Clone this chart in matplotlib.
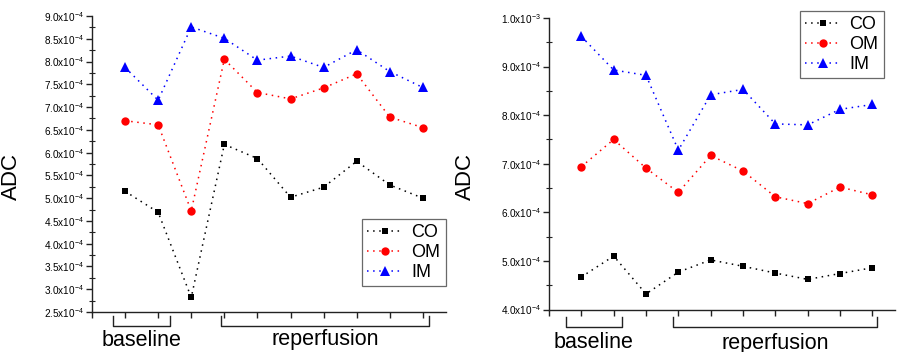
import matplotlib
matplotlib.use("Agg")
import matplotlib.pyplot as plt
import matplotlib.transforms as mtransforms
from matplotlib.ticker import FixedLocator, FixedFormatter, MultipleLocator

plt.rcParams['font.family'] = ['Liberation Sans', 'DejaVu Sans']
plt.rcParams['mathtext.fontset'] = 'custom'
plt.rcParams['mathtext.rm'] = 'Liberation Sans'
plt.rcParams['mathtext.it'] = 'Liberation Sans:italic'
plt.rcParams['mathtext.bf'] = 'Liberation Sans:bold'

# ---------------- data ----------------
timepoints = [1, 2, 3, 4, 5, 6, 7, 8, 9, 10]

left_CO = [5.15e-4, 4.69e-4, 2.82e-4, 6.18e-4, 5.87e-4, 5.02e-4, 5.24e-4, 5.81e-4, 5.29e-4, 5.00e-4]
left_OM = [6.70e-4, 6.61e-4, 4.72e-4, 8.05e-4, 7.32e-4, 7.18e-4, 7.42e-4, 7.73e-4, 6.78e-4, 6.55e-4]
left_IM = [7.87e-4, 7.15e-4, 8.76e-4, 8.51e-4, 8.03e-4, 8.12e-4, 7.87e-4, 8.26e-4, 7.78e-4, 7.43e-4]

right_CO = [4.67e-4, 5.10e-4, 4.32e-4, 4.77e-4, 5.02e-4, 4.89e-4, 4.75e-4, 4.62e-4, 4.74e-4, 4.86e-4]
right_OM = [6.94e-4, 7.50e-4, 6.91e-4, 6.41e-4, 7.17e-4, 6.85e-4, 6.32e-4, 6.18e-4, 6.52e-4, 6.36e-4]
right_IM = [9.62e-4, 8.93e-4, 8.82e-4, 7.28e-4, 8.42e-4, 8.53e-4, 7.82e-4, 7.80e-4, 8.12e-4, 8.22e-4]

left_yticks = [2.5e-4, 3.0e-4, 3.5e-4, 4.0e-4, 4.5e-4, 5.0e-4, 5.5e-4, 6.0e-4,
               6.5e-4, 7.0e-4, 7.5e-4, 8.0e-4, 8.5e-4, 9.0e-4]
left_yticklabels = ['2.5x10$^{-4}$', '3.0x10$^{-4}$', '3.5x10$^{-4}$', '4.0x10$^{-4}$',
                    '4.5x10$^{-4}$', '5.0x10$^{-4}$', '5.5x10$^{-4}$', '6.0x10$^{-4}$',
                    '6.5x10$^{-4}$', '7.0x10$^{-4}$', '7.5x10$^{-4}$', '8.0x10$^{-4}$',
                    '8.5x10$^{-4}$', '9.0x10$^{-4}$']
right_yticks = [4.0e-4, 5.0e-4, 6.0e-4, 7.0e-4, 8.0e-4, 9.0e-4, 1.0e-3]
right_yticklabels = ['4.0x10$^{-4}$', '5.0x10$^{-4}$', '6.0x10$^{-4}$', '7.0x10$^{-4}$',
                     '8.0x10$^{-4}$', '9.0x10$^{-4}$', '1.0x10$^{-3}$']
xticks = [0, 1, 2, 3, 4, 5, 6, 7, 8, 9, 10]

series_names = ['CO', 'OM', 'IM']
phase_labels = ['baseline', 'reperfusion']

# ---------------- figure ----------------
fig = plt.figure(figsize=(8.97, 3.52), dpi=100)
W, H = 897.0, 352.0

def make_axes(x0, x1, ytop, ybot):
    return fig.add_axes([x0 / W, 1 - ybot / H, (x1 - x0) / W, (ybot - ytop) / H])

axL = make_axes(92, 446, 16, 312)
axR = make_axes(549, 895, 18, 309.5)

styles = [
    dict(color='black', marker='s', markersize=5.0),
    dict(color='red', marker='o', markersize=6.0),
    dict(color='blue', marker='^', markersize=6.5),
]

def draw(ax, series, yticks, ylabels, ylim, minor, legend_anchor,
         ylabel_x, base_span, rep_span, br_top, br_bot, txt_y):
    for vals, name, st in zip(series, series_names, styles):
        ax.plot(timepoints, vals, linestyle=(0, (1, 3)), linewidth=1.1,
                color=st['color'], marker=st['marker'], markersize=st['markersize'],
                markeredgewidth=0, label=name)
    ax.set_xlim(0, 10.7)
    ax.set_ylim(*ylim)
    for s in ['top', 'right']:
        ax.spines[s].set_visible(False)
    for s in ['left', 'bottom']:
        ax.spines[s].set_color('#222222')
        ax.spines[s].set_linewidth(1.0)
    ax.xaxis.set_major_locator(FixedLocator(xticks))
    ax.set_xticklabels([])
    ax.tick_params(axis='x', direction='out', length=4, width=1, color='#222222')
    ax.yaxis.set_major_locator(FixedLocator(yticks))
    ax.yaxis.set_major_formatter(FixedFormatter(ylabels))
    ax.yaxis.set_minor_locator(MultipleLocator(minor))
    ax.tick_params(axis='y', which='major', direction='out', length=4, width=1,
                   color='#222222', labelsize=7.2, pad=2)
    ax.tick_params(axis='y', which='minor', direction='inout', length=4, width=0.8,
                   color='#222222')
    ax.set_ylabel('ADC', fontsize=16)
    ax.yaxis.set_label_coords(ylabel_x, 0.5, transform=fig.transFigure)

    leg = ax.legend(loc='upper right', bbox_to_anchor=legend_anchor,
                    bbox_transform=fig.transFigure, fontsize=13,
                    frameon=True, fancybox=False, edgecolor='#444444',
                    handlelength=2.0, handletextpad=0.45, borderpad=0.3,
                    labelspacing=0.15, borderaxespad=0)
    leg.get_frame().set_linewidth(0.9)

    trans = mtransforms.blended_transform_factory(ax.transData, fig.transFigure)
    for (xa, xb), lab in zip([base_span, rep_span], phase_labels):
        ax.plot([xa, xa, xb, xb], [br_top, br_bot, br_bot, br_top], color='#222222',
                linewidth=1.0, transform=trans, clip_on=False)
        ax.text((xa + xb) / 2, txt_y, lab, transform=trans, ha='center', va='center',
                fontsize=15.5)

draw(axL, [left_CO, left_OM, left_IM], left_yticks, left_yticklabels,
     (2.5e-4, 9.0e-4), 0.25e-4, (446 / W, 1 - 219 / H),
     22 / W, (0.62, 2.35), (3.9, 10.2), 1 - 316 / H, 1 - 326 / H, 1 - 340 / H)

draw(axR, [right_CO, right_OM, right_IM], right_yticks, right_yticklabels,
     (4.0e-4, 1.0e-3), 0.5e-4, (884 / W, 1 - 11 / H),
     476 / W, (0.52, 2.25), (3.83, 10.15), 1 - 316.5 / H, 1 - 327 / H, 1 - 343 / H)

fig.savefig('out.png', dpi=100)
